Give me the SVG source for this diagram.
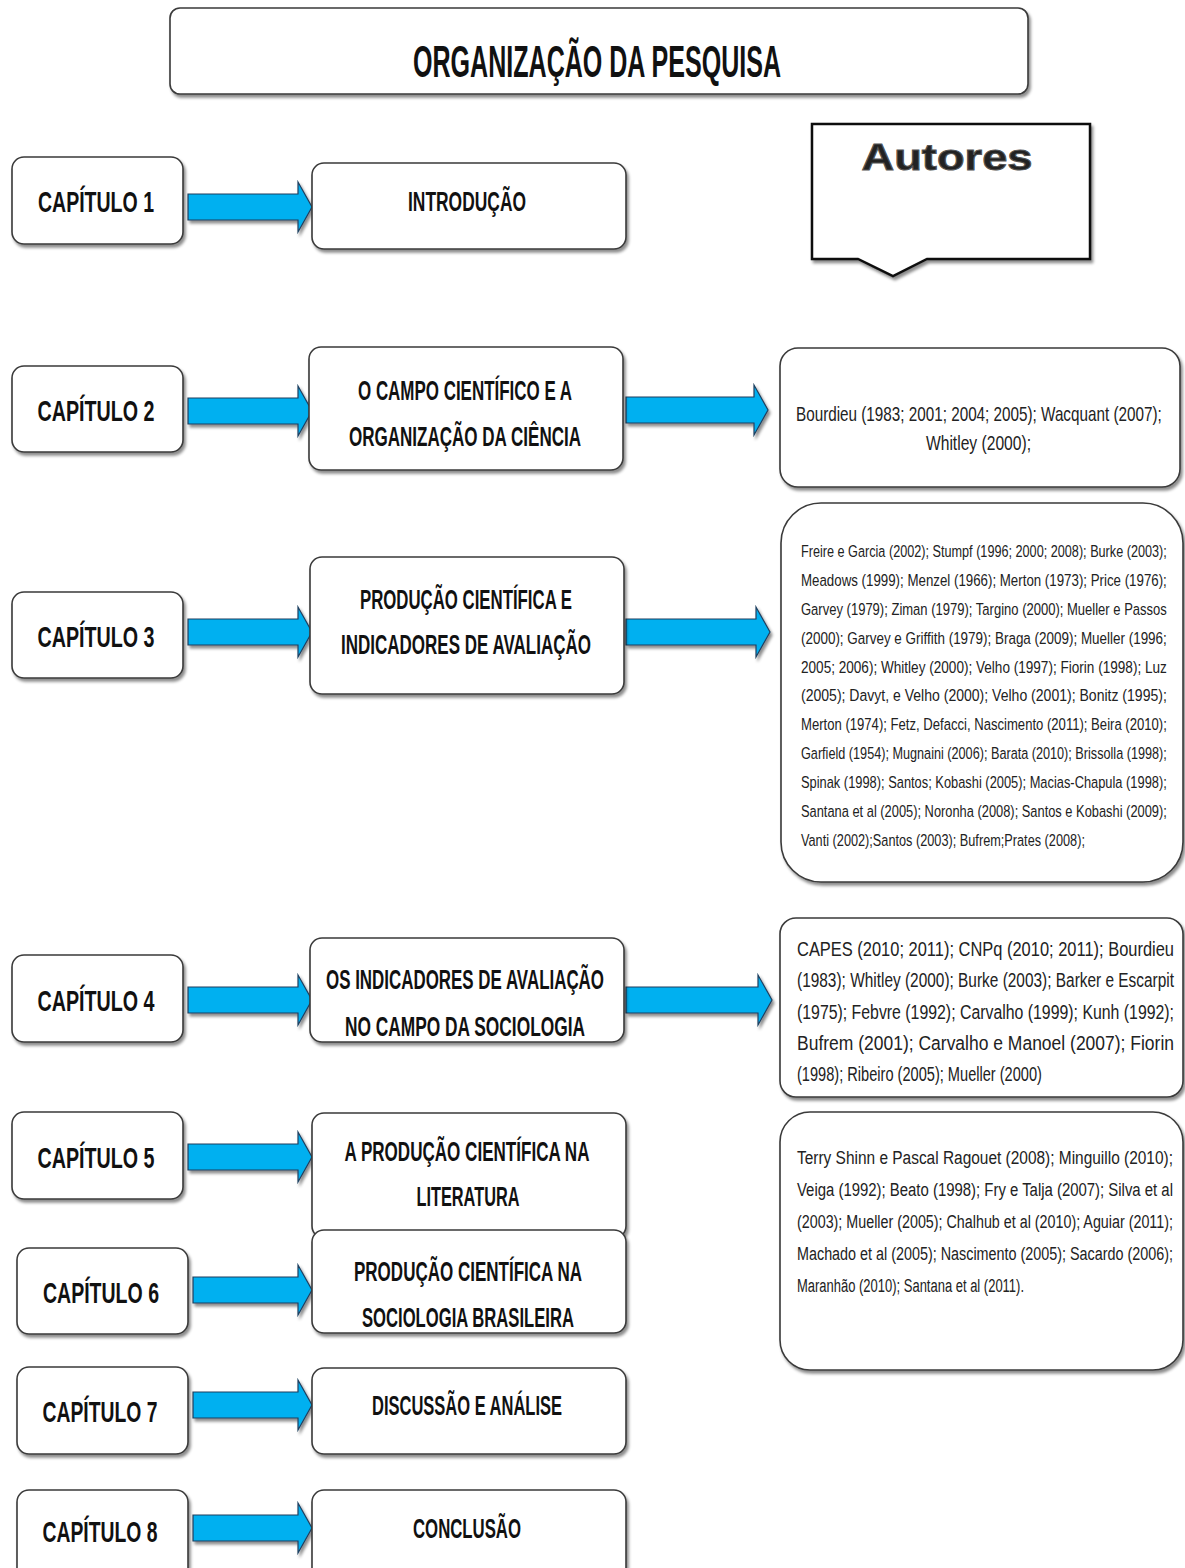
<svg xmlns="http://www.w3.org/2000/svg" width="1185" height="1568" viewBox="0 0 1185 1568">
<defs>
<filter id="sh" x="-10%" y="-10%" width="130%" height="140%">
<feDropShadow dx="2" dy="3" stdDeviation="1.5" flood-color="#000" flood-opacity="0.45"/>
</filter>
<style>
.box{fill:#fff;stroke:#3a3a3a;stroke-width:1.6;filter:url(#sh)}
.arr{fill:#00B0F0;stroke:#1f3f5f;stroke-width:1.2;filter:url(#sh)}
.hd{font-family:"Liberation Sans",Arial,sans-serif;font-weight:bold;fill:#111;text-anchor:middle}
.cap{font-size:30px}
.nd{font-size:27px}
.au{font-family:"Liberation Sans",Arial,sans-serif;fill:#222}
</style>
</defs>
<rect width="1185" height="1568" fill="#fff"/>

<g id="title">
<rect class="box" x="170" y="8" width="858" height="86" rx="10"/>
<text class="hd" x="597" y="77" font-size="44" textLength="368" lengthAdjust="spacingAndGlyphs">ORGANIZAÇÃO DA PESQUISA</text>
</g>

<g id="autores">
<path d="M812,124 H1090 V259 H927 L893,276 L858,259 H812 Z" fill="#fff" stroke="#111" stroke-width="2.5" filter="url(#sh)"/>
<text x="947" y="170" font-family="'Liberation Sans',Arial,sans-serif" font-weight="900" font-size="36" fill="#222" stroke="#555" stroke-width="1" text-anchor="middle" textLength="171" lengthAdjust="spacingAndGlyphs">Autores</text>
</g>

<g id="connectors">
<polygon class="arr" points="188,194 298,194 298,182 312,207 298,232 298,220 188,220"/>
<polygon class="arr" points="188,398 298,398 298,386 312,411 298,436 298,424 188,424"/>
<polygon class="arr" points="188,619 298,619 298,607 312,632 298,657 298,645 188,645"/>
<polygon class="arr" points="188,987 298,987 298,975 312,1000 298,1025 298,1013 188,1013"/>
<polygon class="arr" points="188,1144 298,1144 298,1132 312,1157 298,1182 298,1170 188,1170"/>
<polygon class="arr" points="193,1277 298,1277 298,1265 312,1290 298,1315 298,1303 193,1303"/>
<polygon class="arr" points="193,1392 298,1392 298,1380 312,1405 298,1430 298,1418 193,1418"/>
<polygon class="arr" points="193,1515 298,1515 298,1503 312,1528 298,1553 298,1541 193,1541"/>
<polygon class="arr" points="626,397 754,397 754,385 768,410 754,435 754,423 626,423"/>
<polygon class="arr" points="626,619 756,619 756,607 770,632 756,657 756,645 626,645"/>
<polygon class="arr" points="626,987 758,987 758,975 772,1000 758,1025 758,1013 626,1013"/>
</g>

<g id="cap1"><rect class="box" x="12" y="157" width="171" height="87" rx="12"/>
<text class="hd cap" x="96" y="212" textLength="116" lengthAdjust="spacingAndGlyphs">CAPÍTULO 1</text></g>
<g id="n1"><rect class="box" x="312" y="163" width="314" height="86" rx="12"/>
<text class="hd nd" x="467" y="211" textLength="118" lengthAdjust="spacingAndGlyphs">INTRODUÇÃO</text></g>

<g id="cap2"><rect class="box" x="12" y="366" width="171" height="86" rx="12"/>
<text class="hd cap" x="96" y="421" textLength="117" lengthAdjust="spacingAndGlyphs">CAPÍTULO 2</text></g>
<g id="n2"><rect class="box" x="309" y="347" width="314" height="123" rx="12"/>
<text class="hd nd" x="465" y="400" textLength="214" lengthAdjust="spacingAndGlyphs">O CAMPO CIENTÍFICO E A</text>
<text class="hd nd" x="465" y="446" textLength="232" lengthAdjust="spacingAndGlyphs">ORGANIZAÇÃO DA CIÊNCIA</text></g>
<g id="a2"><rect class="box" x="780" y="348" width="400" height="139" rx="18"/>
<g class="au" font-size="21" transform="translate(796,0) scale(0.73,1)">
<text x="0" y="421" textLength="501" lengthAdjust="spacingAndGlyphs">Bourdieu (1983; 2001; 2004; 2005); Wacquant (2007);</text>
<text x="250" y="450" text-anchor="middle" textLength="144" lengthAdjust="spacingAndGlyphs">Whitley (2000);</text>
</g></g>

<g id="cap3"><rect class="box" x="12" y="592" width="171" height="86" rx="12"/>
<text class="hd cap" x="96" y="647" textLength="117" lengthAdjust="spacingAndGlyphs">CAPÍTULO 3</text></g>
<g id="n3"><rect class="box" x="310" y="557" width="314" height="137" rx="12"/>
<text class="hd nd" x="466" y="609" textLength="212" lengthAdjust="spacingAndGlyphs">PRODUÇÃO CIENTÍFICA E</text>
<text class="hd nd" x="466" y="654" textLength="250" lengthAdjust="spacingAndGlyphs">INDICADORES DE AVALIAÇÃO</text></g>
<g id="a3"><rect class="box" x="781" y="503" width="402" height="379" rx="40"/>
<g class="au" font-size="16.5" transform="translate(801,0) scale(0.78,1)">
<text x="0" y="557" textLength="469" lengthAdjust="spacingAndGlyphs">Freire e Garcia (2002); Stumpf (1996; 2000; 2008); Burke (2003);</text>
<text x="0" y="586" textLength="469" lengthAdjust="spacingAndGlyphs">Meadows (1999); Menzel (1966); Merton (1973); Price (1976);</text>
<text x="0" y="615" textLength="469" lengthAdjust="spacingAndGlyphs">Garvey (1979); Ziman (1979); Targino (2000); Mueller e Passos</text>
<text x="0" y="644" textLength="469" lengthAdjust="spacingAndGlyphs">(2000); Garvey e Griffith (1979); Braga (2009); Mueller (1996;</text>
<text x="0" y="673" textLength="469" lengthAdjust="spacingAndGlyphs">2005; 2006); Whitley (2000); Velho (1997); Fiorin (1998); Luz</text>
<text x="0" y="701" textLength="469" lengthAdjust="spacingAndGlyphs">(2005); Davyt, e Velho (2000); Velho (2001); Bonitz (1995);</text>
<text x="0" y="730" textLength="469" lengthAdjust="spacingAndGlyphs">Merton (1974); Fetz, Defacci, Nascimento (2011); Beira (2010);</text>
<text x="0" y="759" textLength="469" lengthAdjust="spacingAndGlyphs">Garfield (1954); Mugnaini (2006); Barata (2010); Brissolla (1998);</text>
<text x="0" y="788" textLength="469" lengthAdjust="spacingAndGlyphs">Spinak (1998); Santos; Kobashi (2005); Macias-Chapula (1998);</text>
<text x="0" y="817" textLength="469" lengthAdjust="spacingAndGlyphs">Santana et al (2005); Noronha (2008); Santos e Kobashi (2009);</text>
<text x="0" y="846" textLength="364" lengthAdjust="spacingAndGlyphs">Vanti (2002);Santos (2003); Bufrem;Prates (2008);</text>
</g></g>

<g id="cap4"><rect class="box" x="12" y="955" width="171" height="87" rx="12"/>
<text class="hd cap" x="96" y="1011" textLength="117" lengthAdjust="spacingAndGlyphs">CAPÍTULO 4</text></g>
<g id="n4"><rect class="box" x="310" y="938" width="314" height="104" rx="12"/>
<text class="hd nd" x="465" y="989" textLength="278" lengthAdjust="spacingAndGlyphs">OS INDICADORES DE AVALIAÇÃO</text>
<text class="hd nd" x="465" y="1036" textLength="240" lengthAdjust="spacingAndGlyphs">NO CAMPO DA SOCIOLOGIA</text></g>
<g id="a4"><rect class="box" x="780" y="918" width="403" height="179" rx="16"/>
<g class="au" font-size="21" transform="translate(797,0) scale(0.74,1)">
<text x="0" y="956" textLength="509.5" lengthAdjust="spacingAndGlyphs">CAPES (2010; 2011); CNPq (2010; 2011); Bourdieu</text>
<text x="0" y="987" textLength="509.5" lengthAdjust="spacingAndGlyphs">(1983); Whitley (2000); Burke (2003); Barker e Escarpit</text>
<text x="0" y="1019" textLength="509.5" lengthAdjust="spacingAndGlyphs">(1975); Febvre (1992); Carvalho (1999); Kunh (1992);</text>
<text x="0" y="1050" textLength="509.5" lengthAdjust="spacingAndGlyphs">Bufrem (2001); Carvalho e Manoel (2007); Fiorin</text>
<text x="0" y="1081" textLength="331" lengthAdjust="spacingAndGlyphs">(1998); Ribeiro (2005); Mueller (2000)</text>
</g></g>

<g id="cap5"><rect class="box" x="12" y="1112" width="171" height="87" rx="12"/>
<text class="hd cap" x="96" y="1168" textLength="117" lengthAdjust="spacingAndGlyphs">CAPÍTULO 5</text></g>
<g id="n5"><rect class="box" x="312" y="1113" width="314" height="125" rx="12"/>
<text class="hd nd" x="467" y="1161" textLength="245" lengthAdjust="spacingAndGlyphs">A PRODUÇÃO CIENTÍFICA NA</text>
<text class="hd nd" x="468" y="1206" textLength="103" lengthAdjust="spacingAndGlyphs">LITERATURA</text></g>
<g id="a5"><rect class="box" x="780" y="1112" width="403" height="258" rx="30"/>
<g class="au" font-size="19" transform="translate(797,0) scale(0.76,1)">
<text x="0" y="1164" textLength="494.7" lengthAdjust="spacingAndGlyphs">Terry Shinn e Pascal Ragouet (2008); Minguillo (2010);</text>
<text x="0" y="1196" textLength="494.7" lengthAdjust="spacingAndGlyphs">Veiga (1992); Beato (1998); Fry e Talja (2007); Silva et al</text>
<text x="0" y="1228" textLength="494.7" lengthAdjust="spacingAndGlyphs">(2003); Mueller (2005); Chalhub et al (2010); Aguiar (2011);</text>
<text x="0" y="1260" textLength="494.7" lengthAdjust="spacingAndGlyphs">Machado et al (2005); Nascimento (2005); Sacardo (2006);</text>
<text x="0" y="1292" textLength="298.7" lengthAdjust="spacingAndGlyphs">Maranhão (2010); Santana et al (2011).</text>
</g></g>

<g id="cap6"><rect class="box" x="17" y="1248" width="171" height="86" rx="12"/>
<text class="hd cap" x="101" y="1303" textLength="116" lengthAdjust="spacingAndGlyphs">CAPÍTULO 6</text></g>
<g id="n6"><rect class="box" x="312" y="1230" width="314" height="103" rx="12"/>
<text class="hd nd" x="468" y="1281" textLength="228" lengthAdjust="spacingAndGlyphs">PRODUÇÃO CIENTÍFICA NA</text>
<text class="hd nd" x="468" y="1327" textLength="212" lengthAdjust="spacingAndGlyphs">SOCIOLOGIA BRASILEIRA</text></g>

<g id="cap7"><rect class="box" x="17" y="1367" width="171" height="87" rx="12"/>
<text class="hd cap" x="100" y="1422" textLength="115" lengthAdjust="spacingAndGlyphs">CAPÍTULO 7</text></g>
<g id="n7"><rect class="box" x="312" y="1368" width="314" height="86" rx="12"/>
<text class="hd nd" x="467" y="1415" textLength="190" lengthAdjust="spacingAndGlyphs">DISCUSSÃO E ANÁLISE</text></g>

<g id="cap8"><rect class="box" x="17" y="1490" width="171" height="92" rx="12"/>
<text class="hd cap" x="100" y="1542" textLength="115" lengthAdjust="spacingAndGlyphs">CAPÍTULO 8</text></g>
<g id="n8"><rect class="box" x="312" y="1490" width="314" height="92" rx="12"/>
<text class="hd nd" x="467" y="1538" textLength="108" lengthAdjust="spacingAndGlyphs">CONCLUSÃO</text></g>
</svg>
